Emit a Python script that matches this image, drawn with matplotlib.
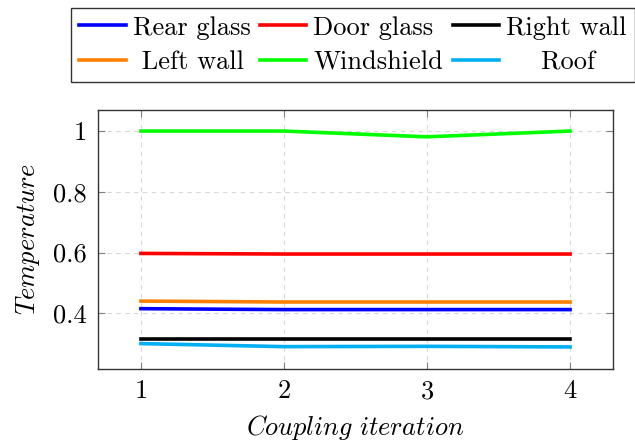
import numpy as np
import matplotlib
matplotlib.use('Agg')
import matplotlib.pyplot as plt
from matplotlib.ticker import FuncFormatter

###########################################################################
# Data
###########################################################################
iterations = [1, 2, 3, 4]
rearGlass = [0.415, 0.412, 0.412, 0.412]
doorGlass = [0.597, 0.595, 0.595, 0.595]
rightWall = [0.316, 0.316, 0.316, 0.316]
leftWall = [0.440, 0.437, 0.437, 0.437]
windshield = [1.0, 1.0, 0.981, 1.0]
roof = [0.300, 0.290, 0.291, 0.289]

seriesNames = ['Rear glass', 'Door glass', 'Right wall', 'Left wall', 'Windshield', 'Roof']
seriesColors = ['#0000ff', '#ff0000', '#000000', '#ff8000', '#00ff00', '#00b0f0']
# leading spaces fake the centred legend cells of pgfplots
legendLabels = ['Rear glass', 'Door glass', 'Right wall', ' Left wall', 'Windshield', '    Roof']
yTicks = [0.4, 0.6, 0.8, 1.0]

###########################################################################
# Style
###########################################################################
plt.rcParams['font.family'] = 'serif'
plt.rcParams['font.serif'] = ['cmr10', 'DejaVu Serif']
plt.rcParams['mathtext.fontset'] = 'cm'
plt.rcParams['axes.formatter.use_mathtext'] = True
fontSize = 19

fig = plt.figure(figsize=(6.35, 4.48), dpi=100)
ax = fig.add_axes([98/635, 1 - 368.5/448, (613 - 98)/635, (368.5 - 109.5)/448])

allSeries = [rearGlass, doorGlass, rightWall, leftWall, windshield, roof]
lines = []
for vals, col, lab in zip(allSeries, seriesColors, legendLabels):
    ln, = ax.plot(iterations, vals, color=col, lw=2.6, label=lab)
    lines.append(ln)

ax.set_xlim(0.7, 4.3)
ax.set_ylim(0.218, 1.071)
ax.set_xticks(iterations)
ax.set_yticks(yTicks)
ax.yaxis.set_major_formatter(FuncFormatter(lambda v, p: '%g' % v))
ax.tick_params(direction='in', length=5, width=0.8, color='#808080', labelsize=fontSize,
               top=True, right=True, pad=8)
ax.set_axisbelow(True)
ax.grid(True, linestyle=(0, (4, 4)), color='#d8d8d8', lw=0.8)
for sp in ax.spines.values():
    sp.set_linewidth(1.0)
    sp.set_color('#333333')

ax.set_xlabel(r'$\mathit{Coupling\ iteration}$', fontsize=fontSize, labelpad=7)
ax.set_ylabel(r'$\mathit{Temperature}$', fontsize=fontSize, labelpad=8)

# row-wise order for a 3 column legend (matplotlib fills by column)
order = [0, 3, 1, 4, 2, 5]
leg = fig.legend([lines[i] for i in order], [legendLabels[i] for i in order],
                 loc='center', bbox_to_anchor=(353/635, 1 - 45/448), ncol=3,
                 fontsize=fontSize, handlelength=1.75, handletextpad=0.28,
                 columnspacing=0.35, labelspacing=0.4, borderpad=0.3,
                 fancybox=False, edgecolor='#333333', framealpha=1)
leg.get_frame().set_linewidth(1.0)

fig.savefig('out.png', dpi=100)
